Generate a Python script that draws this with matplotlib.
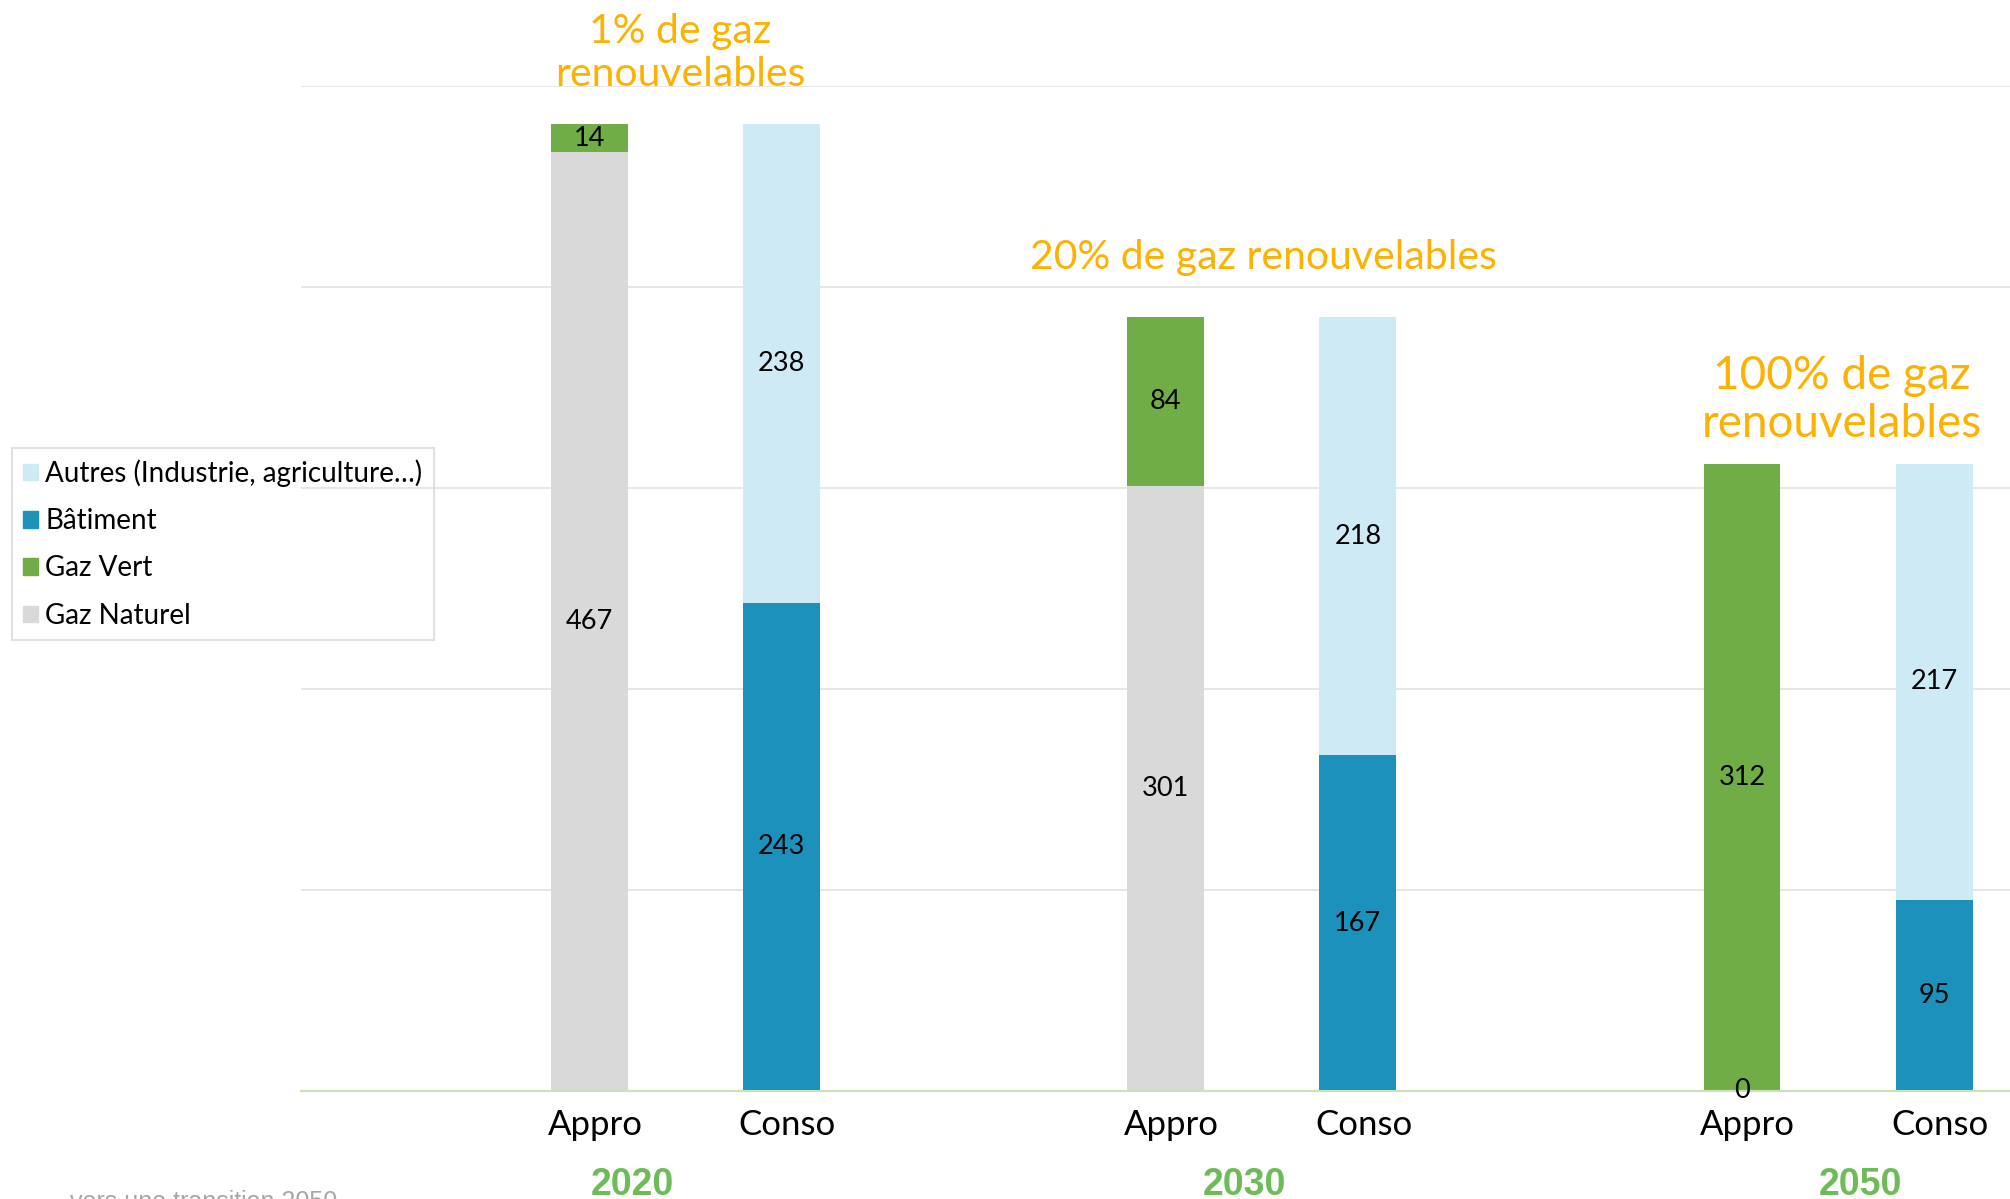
import matplotlib.pyplot as plt
from matplotlib.patches import Patch
import numpy as np

plt.rcParams['font.family'] = ['Lato', 'DejaVu Sans']

W, H = 2010, 1199

years = ['2020', '2030', '2050']
bar_names = ['Appro', 'Conso']
gaz_naturel = [467, 301, 0]
gaz_vert = [14, 84, 312]
batiment = [243, 167, 95]
autres = [238, 218, 217]
annotations = ['1% de gaz\nrenouvelables', '20% de gaz renouvelables', '100% de gaz\nrenouvelables']

COLORS = {
    'naturel': '#d9d9d9',
    'vert': '#70ad47',
    'batiment': '#1b91bb',
    'autres': '#cdeaf5',
    'orange': '#fdb100',
    'year': '#6dbb59',
}


def fx(px):
    return px / W


def fy(py):
    return 1 - py / H


fig = plt.figure(figsize=(W / 100, H / 100), dpi=100, facecolor='white')
ax = fig.add_axes([fx(301), fy(1091), 1 - fx(301), fy(86) - fy(1091)])

x_appro = np.arange(len(years)) * 3
x_conso = x_appro + 1
width = 0.4

b1 = ax.bar(x_appro, gaz_naturel, width, color=COLORS['naturel'], zorder=2)
b2 = ax.bar(x_appro, gaz_vert, width, bottom=gaz_naturel, color=COLORS['vert'], zorder=2)
b3 = ax.bar(x_conso, batiment, width, color=COLORS['batiment'], zorder=2)
b4 = ax.bar(x_conso, autres, width, bottom=batiment, color=COLORS['autres'], zorder=2)

for bars in (b1, b2, b3, b4):
    ax.bar_label(bars, label_type='center', fontsize=19.5, color='black')

ax.set_xlim(-1.502, 7.395)
ax.set_ylim(0, 500)
ax.set_yticks(np.arange(100, 501, 100))
ax.yaxis.grid(True, color='#e4e4e4', linewidth=1.3, zorder=0)
ax.set_axisbelow(True)
ax.tick_params(axis='y', left=False, labelleft=False)

xticks = np.ravel(np.column_stack([x_appro, x_conso]))
ax.set_xticks(xticks + 0.03)
ax.set_xticklabels(bar_names * len(years), fontsize=25)
ax.tick_params(axis='x', length=0, pad=13)

for s in ['top', 'right', 'left']:
    ax.spines[s].set_visible(False)
ax.spines['bottom'].set_color('#c9e2b8')
ax.spines['bottom'].set_linewidth(1.5)

# year labels under each group
year_px = [632, 1244, 1860]
for yr, px in zip(years, year_px):
    fig.text(fx(px), fy(1185), yr, ha='center', va='center', fontsize=27,
             fontweight='bold', color=COLORS['year'], family='Liberation Sans')

# orange annotations
ann_pos = [(680, 53, 29.5, 1.22), (1263, 257, 29.5, 1.0), (1842, 400, 33, 1.2)]
for txt, (px, py, fs, ls) in zip(annotations, ann_pos):
    fig.text(fx(px), fy(py), txt, ha='center', va='center', fontsize=fs,
             color=COLORS['orange'], linespacing=ls)

# legend outside axes on the left
handles = [Patch(color=COLORS['autres'], label='Autres (Industrie, agriculture…)'),
           Patch(color=COLORS['batiment'], label='Bâtiment'),
           Patch(color=COLORS['vert'], label='Gaz Vert'),
           Patch(color=COLORS['naturel'], label='Gaz Naturel')]
leg = fig.legend(handles=handles, loc='upper left', bbox_to_anchor=(fx(12), fy(448)),
                 fontsize=20, frameon=True, fancybox=False, handlelength=0.55,
                 handleheight=0.55, handletextpad=0.25, labelspacing=0.77,
                 borderpad=0.4, borderaxespad=0)
leg.get_frame().set_edgecolor('#d9d9d9')
leg.get_frame().set_facecolor('none')
leg.get_frame().set_linewidth(1.5)

# source note, cut off at the bottom edge
fig.text(fx(337), fy(1190), 'vers une transition 2050', ha='right', va='top',
         fontsize=18, color='#a6a6a6', family='Liberation Sans')

fig.savefig('out.png', dpi=100, facecolor='white')
